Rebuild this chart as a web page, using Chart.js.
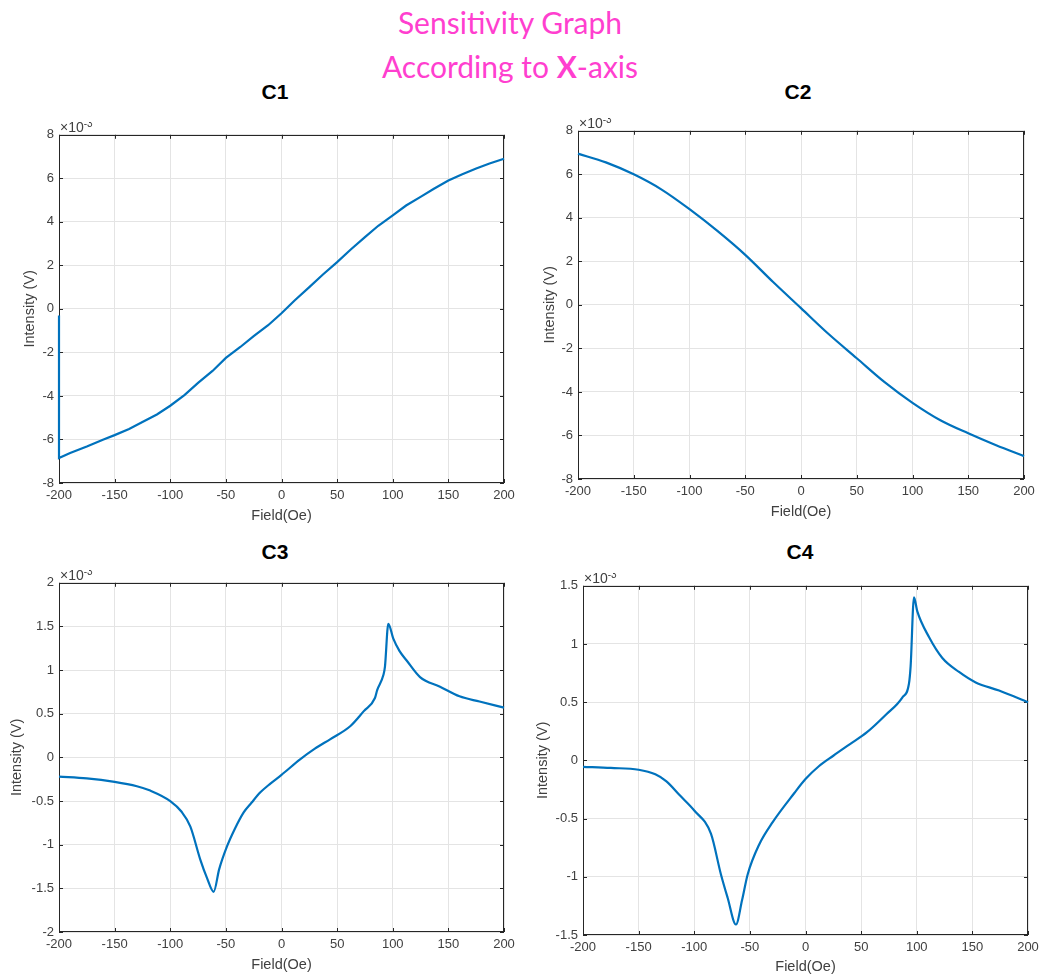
<!DOCTYPE html>
<html>
<head>
<meta charset="utf-8">
<script src="https://cdn.jsdelivr.net/npm/chart.js@4"></script>
<style>
  body { margin: 0; background: #fff; width: 1043px; height: 980px; position: relative; overflow: hidden; }
  canvas { position: absolute; }
  .titulo { position: absolute; left: 0; width: 1020px; text-align: center; color: #ff3fcf;
            font-family: Lato, "Open Sans", sans-serif; font-size: 30px; line-height: 32px; }
  .sub { position: absolute; width: 100px; text-align: center; font-family: "Liberation Sans", Arial, sans-serif;
         font-weight: bold; font-size: 21px; color: #000; }
</style>
</head>
<body>
<div class="titulo" style="top:6px;">Sensitivity Graph</div>
<div class="titulo" style="top:50px;">According to <b>X</b>-axis</div>
<div class="sub" style="left:225px; top:80px;">C1</div>
<div class="sub" style="left:748px; top:80px;">C2</div>
<div class="sub" style="left:225px; top:540px;">C3</div>
<div class="sub" style="left:750px; top:540px;">C4</div>

<canvas id="c1" width="500" height="403" style="left:21px; top:122px;"></canvas>
<canvas id="c2" width="500" height="403" style="left:541px; top:118px;"></canvas>
<canvas id="c3" width="513" height="404" style="left:8px; top:570px;"></canvas>
<canvas id="c4" width="511" height="403" style="left:534px; top:573px;"></canvas>

<script>
// valores em unidades de 10^-3 V
const xTicks = [-200, -150, -100, -50, 0, 50, 100, 150, 200];

const c1X = [-200, -200, -190, -175, -160, -150, -137, -125, -112, -100, -87, -75, -62, -50, -37, -25, -12, 0, 12, 25, 37, 50, 62, 75, 87, 100, 112, 125, 137, 150, 162, 175, 187, 200];
const c1Y = [-0.3, -6.85, -6.62, -6.32, -6.0, -5.8, -5.52, -5.2, -4.85, -4.45, -3.95, -3.4, -2.85, -2.25, -1.75, -1.25, -0.75, -0.2, 0.4, 1.0, 1.57, 2.15, 2.72, 3.3, 3.82, 4.3, 4.75, 5.15, 5.52, 5.9, 6.18, 6.45, 6.68, 6.9];

const c2X = [-200, -175, -150, -125, -100, -75, -50, -25, 0, 25, 50, 75, 100, 125, 150, 175, 200];
const c2Y = [6.95, 6.55, 6.0, 5.3, 4.4, 3.4, 2.3, 1.05, -0.15, -1.35, -2.45, -3.55, -4.5, -5.3, -5.9, -6.45, -6.95];

const c3X = [-200, -175, -150, -130, -118, -100, -90, -82, -73, -67, -61, -56, -49, -42, -34, -27, -19, -10, 0, 17, 30, 44, 62, 74, 84, 86, 91.5, 93, 96, 100.5, 106, 112.5, 124.5, 142.5, 160, 178, 200];
const c3Y = [-0.22, -0.24, -0.28, -0.33, -0.38, -0.5, -0.62, -0.79, -1.17, -1.38, -1.54, -1.28, -1.02, -0.82, -0.63, -0.52, -0.4, -0.3, -0.2, -0.02, 0.1, 0.21, 0.36, 0.53, 0.68, 0.77, 0.94, 1.04, 1.53, 1.36, 1.22, 1.11, 0.92, 0.81, 0.70, 0.64, 0.57];

const c4X = [-200, -175, -150, -135, -125, -113, -100, -85, -76, -70, -62.5, -57, -52, -41.5, -29.5, -10, 0, 12, 25, 40, 55, 72, 87, 93, 94.5, 97.5, 100.5, 111, 123, 138, 153, 174, 200];
const c4Y = [-0.055, -0.065, -0.08, -0.12, -0.18, -0.3, -0.43, -0.63, -0.98, -1.18, -1.41, -1.2, -0.98, -0.72, -0.53, -0.28, -0.16, -0.05, 0.04, 0.14, 0.24, 0.39, 0.54, 0.66, 0.81, 1.40, 1.28, 1.06, 0.88, 0.76, 0.67, 0.60, 0.50];

const fonte = "'Liberation Sans', Arial, sans-serif";

// caixa em volta do grafico (desenhada antes da curva), ticks para dentro e o "x10^-3"
const moldura = {
    id: 'moldura',
    beforeDatasetsDraw(chart) {
        const ctx = chart.ctx;
        const a = chart.chartArea;
        const sx = chart.scales.x, sy = chart.scales.y;
        ctx.save();
        ctx.strokeStyle = '#262626';
        ctx.lineWidth = 1;
        ctx.strokeRect(Math.round(a.left) + 0.5, Math.round(a.top) + 0.5, Math.round(a.width) - 1, Math.round(a.height) - 1);
        ctx.beginPath();
        sx.ticks.forEach(t => {
            const px = Math.round(sx.getPixelForValue(t.value)) + 0.5;
            ctx.moveTo(px, a.bottom); ctx.lineTo(px, a.bottom - 4);
            ctx.moveTo(px, a.top); ctx.lineTo(px, a.top + 4);
        });
        sy.ticks.forEach(t => {
            const py = Math.round(sy.getPixelForValue(t.value)) + 0.5;
            ctx.moveTo(a.left, py); ctx.lineTo(a.left + 4, py);
            ctx.moveTo(a.right, py); ctx.lineTo(a.right - 4, py);
        });
        ctx.stroke();
        ctx.fillStyle = '#404040';
        ctx.textBaseline = 'alphabetic';
        ctx.font = '14px ' + fonte;
        ctx.fillText('\u00d710', a.left + 1, a.top - 3);
        const w = ctx.measureText('\u00d710').width;
        ctx.font = '10px ' + fonte;
        ctx.fillText('-3', a.left + 1 + w, a.top - 8);
        ctx.restore();
    }
};

function criaGrafico(id, xs, ys, yMin, yMax, yStep, yW, xH, suave) {
    const pontos = xs.map((x, i) => ({ x: x, y: ys[i] }));
    const config = {
        type: 'scatter',
        data: {
            datasets: [{
                data: pontos,
                showLine: true,
                borderColor: '#0072BD',
                borderWidth: 2.2,
                pointRadius: 0,
                tension: 0,
                clip: 3,
                cubicInterpolationMode: suave ? 'monotone' : 'default'
            }]
        },
        options: {
            responsive: false,
            animation: false,
            layout: { padding: { top: 10, right: 17, left: 0, bottom: 0 } },
            plugins: { legend: { display: false }, tooltip: { enabled: false } },
            scales: {
                x: {
                    type: 'linear', min: -200, max: 200,
                    afterBuildTicks: s => { s.ticks = xTicks.map(v => ({ value: v })); },
                    afterFit: s => { s.height = xH; },
                    grid: { color: '#e4e4e4', drawTicks: false },
                    border: { display: false },
                    ticks: { color: '#404040', font: { family: fonte, size: 13 }, padding: 5, maxRotation: 0,
                             callback: v => String(v) },
                    title: { display: true, text: 'Field(Oe)', color: '#404040', font: { family: fonte, size: 14.5 }, padding: 0 }
                },
                y: {
                    type: 'linear', min: yMin, max: yMax,
                    ticks: { stepSize: yStep, color: '#404040', font: { family: fonte, size: 13 }, padding: 5,
                             callback: v => String(Math.round(v * 10) / 10) },
                    afterFit: s => { s.width = yW; },
                    grid: { color: '#e4e4e4', drawTicks: false },
                    border: { display: false },
                    title: { display: true, text: 'Intensity (V)', color: '#404040', font: { family: fonte, size: 14.5 }, padding: 0 }
                }
            }
        },
        plugins: [moldura]
    };
    new Chart(document.getElementById(id).getContext('2d'), config);
}

criaGrafico('c1', c1X, c1Y, -8, 8, 2, 38, 42, false);
criaGrafico('c2', c2X, c2Y, -8, 8, 2, 37, 42, true);
criaGrafico('c3', c3X, c3Y, -2, 2, 0.5, 51, 42, true);
criaGrafico('c4', c4X, c4Y, -1.5, 1.5, 0.5, 49, 41, true);
</script>
</body>
</html>
